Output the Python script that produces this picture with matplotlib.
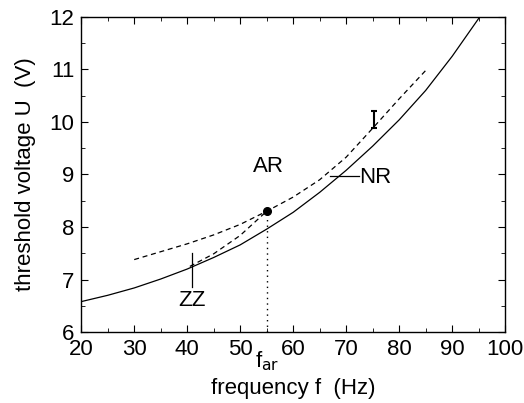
import matplotlib
matplotlib.use("Agg")
import matplotlib.pyplot as plt
from matplotlib.ticker import MultipleLocator

plt.rcParams["font.family"] = ["Liberation Sans", "DejaVu Sans"]

# solid curve (NR threshold)
nr_f = [20, 25, 30, 35, 40, 45, 50, 55, 60, 65, 70, 75, 80, 85, 90, 95]
nr_u = [6.58, 6.7, 6.84, 7.01, 7.2, 7.42, 7.66, 7.96, 8.28, 8.66, 9.08, 9.54, 10.04, 10.6, 11.25, 11.97]

# upper dashed curve
ar_f = [30, 35, 40, 45, 50, 55, 60, 65, 70, 75, 80, 85]
ar_u = [7.38, 7.53, 7.68, 7.85, 8.05, 8.3, 8.57, 8.9, 9.33, 9.88, 10.44, 10.98]

# lower dashed branch (ZZ to AR point)
zz_f = [40.5, 45, 50, 55]
zz_u = [7.25, 7.49, 7.84, 8.3]

# measured point with error bar
err_f, err_u, err_lo, err_hi = 75.2, 10.04, 0.16, 0.16
f_ar, u_ar = 55, 8.3

fig = plt.figure(figsize=(5.24, 4.03), dpi=100)
ax = fig.add_axes([0.155, 0.176, 0.809, 0.782])

ax.plot(nr_f, nr_u, color="black", lw=0.9)
ax.plot(ar_f, ar_u, color="black", lw=0.9, ls=(0, (4, 3)))
ax.plot(zz_f, zz_u, color="black", lw=0.9, ls=(0, (4, 3)))
ax.plot([f_ar], [u_ar], "o", color="black", ms=5.5)
ax.plot([f_ar, f_ar], [6, u_ar], color="black", lw=1, ls=(0, (1, 3)))
ax.errorbar([err_f], [err_u], yerr=[[err_lo], [err_hi]], fmt="none",
            ecolor="black", elinewidth=1.5, capsize=2.5, capthick=1.5)

# labels
ax.plot([41, 41], [6.85, 7.5], color="black", lw=0.9)
ax.text(41, 6.6, "ZZ", ha="center", va="center", fontsize=16)
ax.plot([67, 72.5], [8.97, 8.97], color="black", lw=0.9)
ax.text(72.5, 8.95, "NR", ha="left", va="center", fontsize=16)
ax.text(55.3, 9.15, "AR", ha="center", va="center", fontsize=16)
ax.text(55, 5.45, r"f$_{\rm ar}$", ha="center", va="center", fontsize=16,
        clip_on=False)

ax.set_xlim(20, 100)
ax.set_ylim(6, 12)
ax.xaxis.set_major_locator(MultipleLocator(10))
ax.xaxis.set_minor_locator(MultipleLocator(5))
ax.yaxis.set_major_locator(MultipleLocator(1))
ax.yaxis.set_minor_locator(MultipleLocator(0.5))
ax.tick_params(which="both", direction="in", top=True, right=True, labelsize=16)
ax.tick_params(which="major", length=5, pad=5)
ax.tick_params(which="minor", length=3)
for s in ax.spines.values():
    s.set_linewidth(1.0)

ax.set_xlabel("frequency f  (Hz)", fontsize=16, labelpad=13)
ax.set_ylabel("threshold voltage U  (V)", fontsize=16, labelpad=10)

fig.savefig("out.png", dpi=100)
